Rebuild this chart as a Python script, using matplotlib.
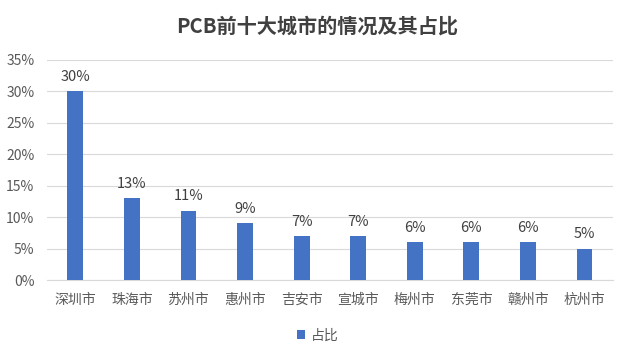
import matplotlib
matplotlib.use("Agg")
import matplotlib.pyplot as plt
from matplotlib.ticker import PercentFormatter, MultipleLocator

plt.rcParams['font.family'] = ['Noto Sans CJK SC', 'DejaVu Sans']

cities = ["深圳市", "珠海市", "苏州市", "惠州市", "吉安市", "宣城市", "梅州市", "东莞市", "赣州市", "杭州市"]
shares = [30, 13, 11, 9, 7, 7, 6, 6, 6, 5]
title = "PCB前十大城市的情况及其占比"
series_name = "占比"

fig = plt.figure(figsize=(6.35, 3.55), dpi=100)
ax = fig.add_axes([0.074, 0.211, 0.891, 0.620])
color = "#4472C4"
txt = "#595959"
x = range(len(cities))
bars = ax.bar(x, shares, width=0.28, color=color, label=series_name, zorder=3)
for xi, v in zip(x, shares):
    ax.text(xi, v + 1.2, f"{v}%", ha="center", va="bottom", fontsize=10.5, color="#404040")

ax.set_xlim(-0.5, len(cities) - 0.5)
ax.set_ylim(0, 35)
ax.yaxis.set_major_locator(MultipleLocator(5))
ax.yaxis.set_major_formatter(PercentFormatter(decimals=0))
ax.set_xticks(list(x))
ax.set_xticklabels(cities)
ax.grid(axis="y", color="#D9D9D9", linewidth=0.8, zorder=0)
for s in ["top", "right", "left"]:
    ax.spines[s].set_visible(False)
ax.spines["bottom"].set_color("#D9D9D9")
ax.tick_params(axis="both", length=0, colors=txt, labelsize=10)
ax.tick_params(axis="y", pad=9)
ax.tick_params(axis="x", pad=9)

fig.suptitle(title, x=0.5, y=0.955, fontsize=14.5, fontweight="bold", color="#404040")
fig.legend(handles=[bars], labels=[series_name], loc="center", bbox_to_anchor=(0.5, 0.055),
           frameon=False, fontsize=10, handlelength=0.6, handleheight=0.6, handletextpad=0.4,
           labelcolor=txt)
fig.savefig("out.png", dpi=100, facecolor="white")
